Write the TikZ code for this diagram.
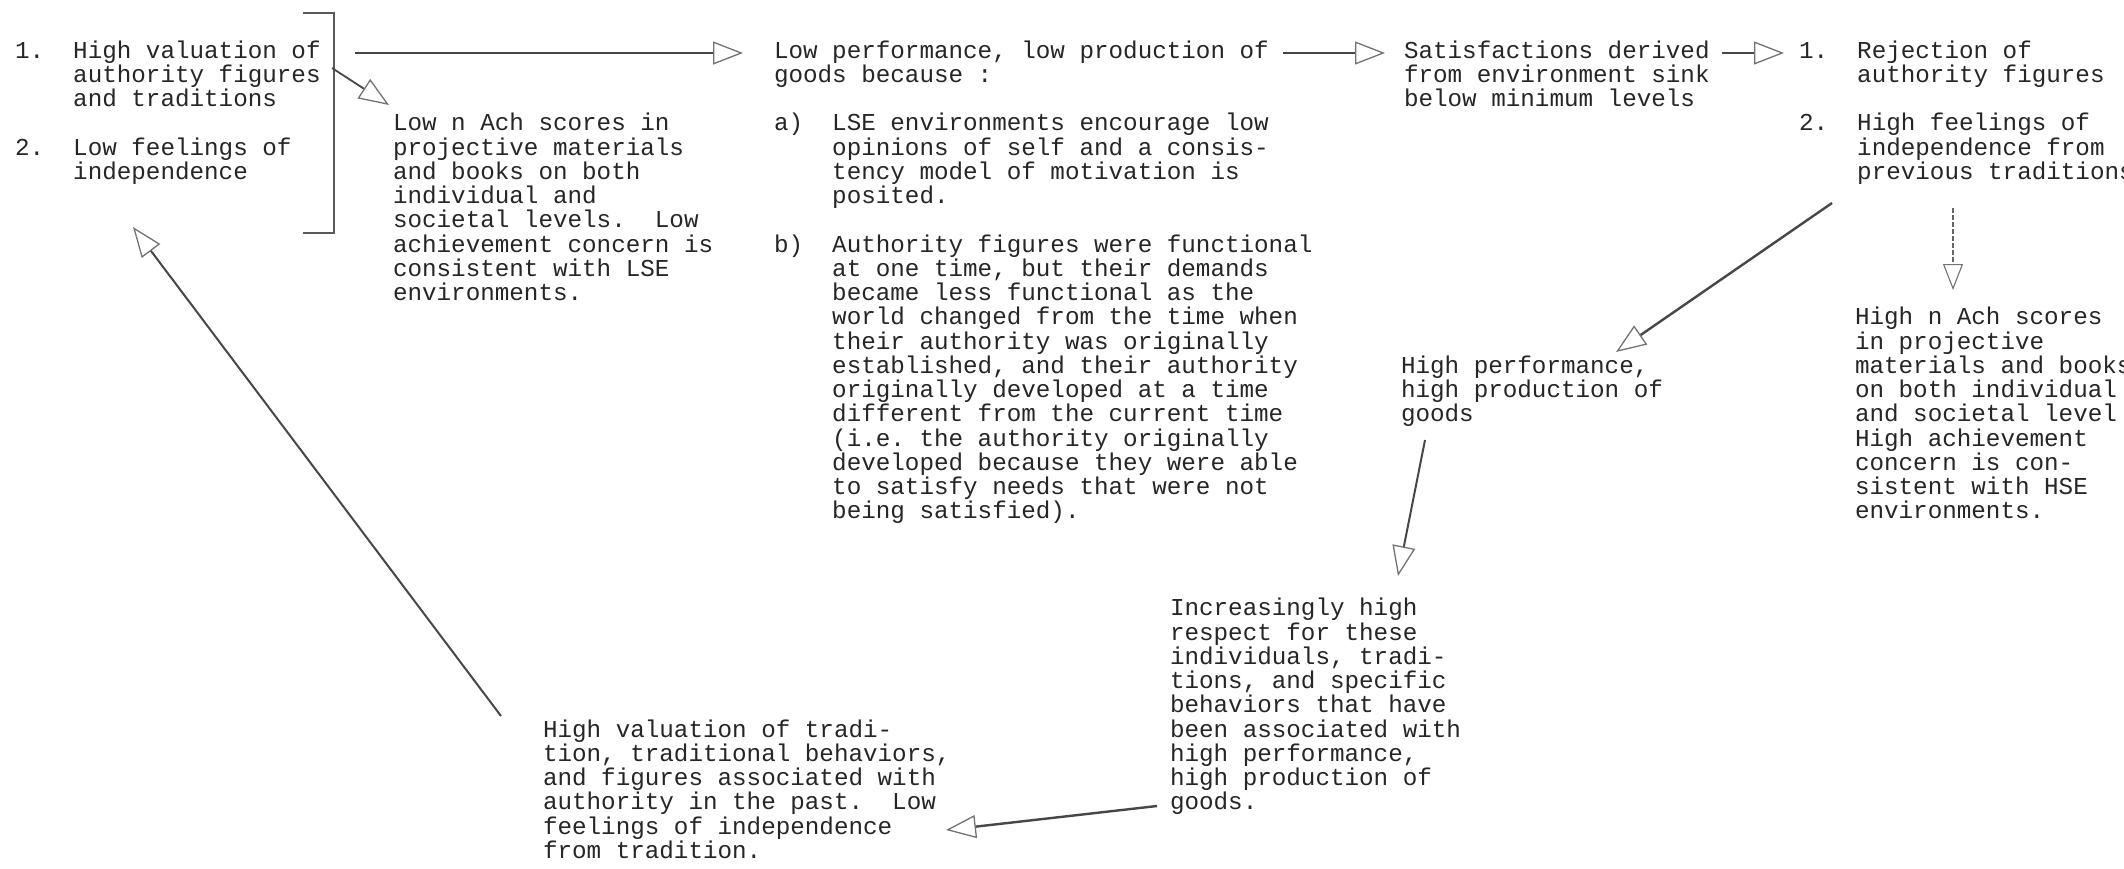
\documentclass[tikz,border=0pt]{standalone}
\usepackage{fontspec}
\newfontfamily\twfont{Liberation Mono}
\usetikzlibrary{arrows.meta}
\frenchspacing
\newcommand\blk[1]{\vtop{\baselineskip=24.25pt\lineskiplimit=-1000pt\lineskip=0pt\relax#1}}
\newcommand\lin[1]{\hbox{#1}}
\newcommand\ind{\hskip58.2pt\relax}
\tikzset{
  txt/.style={anchor=base west,inner sep=0pt,outer sep=0pt,text=black!85,
    font=\twfont\fontsize{24.25pt}{24.25pt}\selectfont},
  conn/.style={draw=black!72,line width=2.4pt,
    -{Triangle[open,length=30pt,width=23pt,line width=1.3pt,color=black!55]}},
  thinconn/.style={draw=black!60,line width=1.3pt,dash pattern=on 5pt off 2pt,
    -{Triangle[open,length=26pt,width=20pt,line width=1.1pt,color=black!55]}},
  brk/.style={draw=black!65,line width=2.2pt}
}
\begin{document}
\begin{tikzpicture}[x=1pt,y=-1pt]
\fill[white] (0,0) rectangle (2124,868);
\useasboundingbox (0,0) rectangle (2124,868);

% text blocks
\node[txt] (left) at (15,58) {\blk{%
  \lin{1.\ \ High valuation of}
  \lin{\ind authority figures}
  \lin{\ind and traditions}
  \lin{}
  \lin{2.\ \ Low feelings of}
  \lin{\ind independence}}};

\node[txt] (lowach) at (393,130.75) {\blk{%
  \lin{Low n Ach scores in}
  \lin{projective materials}
  \lin{and books on both}
  \lin{individual and}
  \lin{societal levels.\ \ Low}
  \lin{achievement concern is}
  \lin{consistent with LSE}
  \lin{environments.}}};

\node[txt] (lowperf) at (774,58) {\blk{%
  \lin{Low performance, low production of}
  \lin{goods because :}
  \lin{}
  \lin{a)\ \ LSE environments encourage low}
  \lin{\ind opinions of self and a consis-}
  \lin{\ind tency model of motivation is}
  \lin{\ind posited.}
  \lin{}
  \lin{b)\ \ Authority figures were functional}
  \lin{\ind at one time, but their demands}
  \lin{\ind became less functional as the}
  \lin{\ind world changed from the time when}
  \lin{\ind their authority was originally}
  \lin{\ind established, and their authority}
  \lin{\ind originally developed at a time}
  \lin{\ind different from the current time}
  \lin{\ind (i.e. the authority originally}
  \lin{\ind developed because they were able}
  \lin{\ind to satisfy needs that were not}
  \lin{\ind being satisfied).}}};

\node[txt] (satis) at (1404,58) {\blk{%
  \lin{Satisfactions derived}
  \lin{from environment sink}
  \lin{below minimum levels}}};

\node[txt] (reject) at (1799,58) {\blk{%
  \lin{1.\ \ Rejection of}
  \lin{\ind authority figures}
  \lin{}
  \lin{2.\ \ High feelings of}
  \lin{\ind independence from}
  \lin{\ind previous traditions}}};

\node[txt] (highach) at (1855,324.75) {\blk{%
  \lin{High n Ach scores}
  \lin{in projective}
  \lin{materials and books}
  \lin{on both individual}
  \lin{and societal level}
  \lin{High achievement}
  \lin{concern is con-}
  \lin{sistent with HSE}
  \lin{environments.}}};

\node[txt] (highperf) at (1401,373.25) {\blk{%
  \lin{High performance,}
  \lin{high production of}
  \lin{goods}}};

\node[txt] (incr) at (1170,615.75) {\blk{%
  \lin{Increasingly high}
  \lin{respect for these}
  \lin{individuals, tradi-}
  \lin{tions, and specific}
  \lin{behaviors that have}
  \lin{been associated with}
  \lin{high performance,}
  \lin{high production of}
  \lin{goods.}}};

\node[txt] (highval) at (543,737) {\blk{%
  \lin{High valuation of tradi-}
  \lin{tion, traditional behaviors,}
  \lin{and figures associated with}
  \lin{authority in the past.\ \ Low}
  \lin{feelings of independence}
  \lin{from tradition.}}};

% connector end points
\coordinate (hA) at (355,53);   \coordinate (hB) at (743,53);
\coordinate (dA) at (332,68);   \coordinate (dB) at (389,105);
\coordinate (pA) at (1283,53);  \coordinate (pB) at (1385,53);
\coordinate (sA) at (1722,53);  \coordinate (sB) at (1784,53);
\coordinate (vA) at (1953,208); \coordinate (vB) at (1953,290);
\coordinate (rA) at (1832,203); \coordinate (rB) at (1616,352);
\coordinate (gA) at (1425,440); \coordinate (gB) at (1398,576);
\coordinate (iA) at (1157,806); \coordinate (iB) at (946,830);
\coordinate (bA) at (501,716);  \coordinate (bB) at (133,227);
\coordinate (k1) at (303,13);   \coordinate (k2) at (334,13);
\coordinate (k3) at (334,233);  \coordinate (k4) at (303,233);

% bracket
\draw[brk] (k1) -- (k2) -- (k3) -- (k4);

% connectors
\draw[conn] (hA) -- (hB);
\draw[conn,line width=1.8pt] (dA) -- (dB);
\draw[conn] (pA) -- (pB);
\draw[conn] (sA) -- (sB);
\draw[thinconn] (vA) -- (vB);
\draw[conn] (rA) -- (rB);
\draw[conn,line width=2pt] (gA) -- (gB);
\draw[conn] (iA) -- (iB);
\draw[conn,line width=2pt] (bA) -- (bB);
\end{tikzpicture}
\end{document}
